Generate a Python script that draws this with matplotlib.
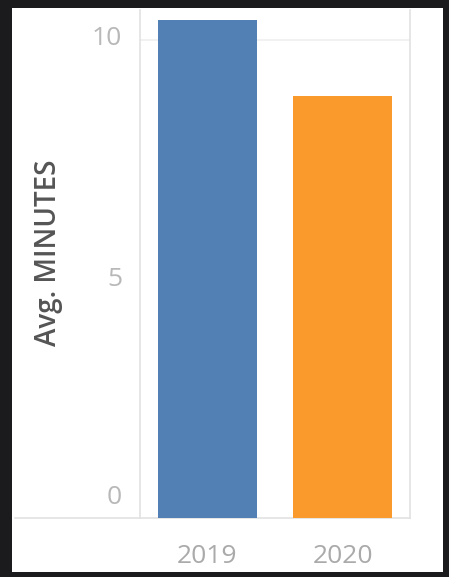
import matplotlib
matplotlib.use("Agg")
import matplotlib.pyplot as plt
import matplotlib.transforms as mtransforms

categories = ["2019", "2020"]
values = [10.42, 8.83]
bar_colors = ["#5380b4", "#fa9a2c"]
yticks = [0, 5, 10]
ytick_labels = ["0", "5", "10"]
ylabel = "Avg. MINUTES"

W, H = 449, 577
fig = plt.figure(figsize=(W / 100, H / 100), dpi=100)
fig.patch.set_facecolor("#1b1b1d")
plt.rcParams['font.family'] = ['Open Sans', 'DejaVu Sans']

# white inner panel
bg = fig.add_axes([12 / W, 1 - 572 / H, (443 - 12) / W, (572 - 8) / H], zorder=-5)
bg.set_facecolor("white")
bg.set_xticks([]); bg.set_yticks([])
for s in bg.spines.values():
    s.set_visible(False)

left, right, top, bottom = 140, 410, 10, 518
ax = fig.add_axes([left / W, 1 - bottom / H, (right - left) / W, (bottom - top) / H], zorder=2)
ax.set_facecolor("none")

x = range(len(categories))
ax.bar(x, values, width=0.74, color=bar_colors, zorder=3)
ax.set_xlim(-0.5, 1.5)
ax.set_ylim(0, 10.63)

ax.axhline(10, color="#efefef", lw=1.2, zorder=1)

ax.spines["top"].set_visible(False)
for s in ["left", "right", "bottom"]:
    ax.spines[s].set_color("#e2e2e2")
    ax.spines[s].set_linewidth(1.2)

ax.set_xticks(list(x))
ax.set_xticklabels(categories, color="#aaaaaa", fontsize=19)
ax.tick_params(axis="x", length=0, pad=19)
ax.set_yticks([])

# y tick labels
offsets_px = {0: 21, 5: 0, 10: 2}
for v, lab in zip(yticks, ytick_labels):
    tr = ax.get_yaxis_transform() + mtransforms.ScaledTranslation(
        -18 / 100, offsets_px.get(v, 0) / 100, fig.dpi_scale_trans)
    ax.text(0, v, lab, transform=tr, ha="right", va="center",
            color="#b8b8b8", fontsize=19, clip_on=False)

# extended baseline to the left
bg.plot([15 / W, left / W], [1 - bottom / H, 1 - bottom / H], transform=fig.transFigure,
        color="#e2e2e2", lw=1.2, clip_on=False)

fig.text(49 / W, 1 - 253 / H, ylabel, rotation=90, ha="center", va="center",
         color="#555555", fontsize=20, fontweight="semibold")

fig.savefig("out.png", dpi=100, facecolor=fig.get_facecolor())
